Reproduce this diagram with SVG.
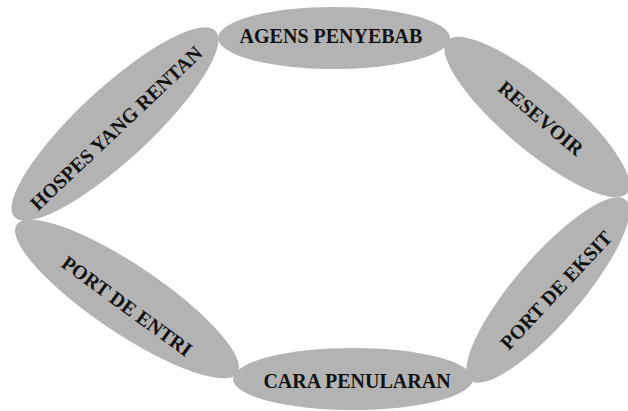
<svg xmlns="http://www.w3.org/2000/svg" width="628" height="411" viewBox="0 0 628 411">
<style>
.n{fill:#b3b3b3;stroke:none}
.t{font-family:"Liberation Serif","Times New Roman",serif;font-weight:bold;font-size:20px;fill:#111;text-anchor:middle}
</style>
<rect width="628" height="411" fill="#fff"/>
<g id="connectors"></g>
<g id="hospes">
<ellipse class="n" cx="115" cy="124" rx="137" ry="36" transform="rotate(-42.8 115 124)"/>
<text class="t" x="116" y="135" transform="rotate(-43.4 116 128)">HOSPES YANG RENTAN</text>
</g>
<g id="agens">
<ellipse class="n" cx="334" cy="38" rx="116" ry="31"/>
<text class="t" x="331" y="43">AGENS PENYEBAB</text>
</g>
<g id="resevoir">
<ellipse class="n" cx="537" cy="117" rx="118" ry="33" transform="rotate(40.2 537 117)"/>
<text class="t" x="541" y="125" transform="rotate(40 541 118)">RESEVOIR</text>
</g>
<g id="port-eksit">
<ellipse class="n" cx="548" cy="290" rx="119" ry="33" transform="rotate(-49.3 548 290)"/>
<text class="t" x="556" y="297" transform="rotate(-47 556 290)">PORT DE EKSIT</text>
</g>
<g id="cara">
<ellipse class="n" cx="353" cy="379" rx="120" ry="31"/>
<text class="t" x="357" y="388">CARA PENULARAN</text>
</g>
<g id="port-entri">
<ellipse class="n" cx="127" cy="299" rx="133" ry="34" transform="rotate(33.9 127 299)"/>
<text class="t" x="127" y="313" transform="rotate(36 127 306)">PORT DE ENTRI</text>
</g>
</svg>
